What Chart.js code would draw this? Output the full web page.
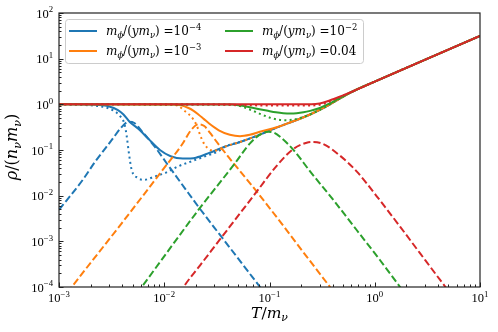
<!DOCTYPE html>
<html>
<head>
<meta charset="utf-8">
<script src="https://cdn.jsdelivr.net/npm/chart.js@4.4.1/dist/chart.umd.min.js"></script>
<style>
  body { margin: 0; background: #fff; }
  canvas { display: block; }
</style>
</head>
<body>
<canvas id="grafico" width="498" height="332"></canvas>
<script>
// tick labels (powers of ten)
const xTicks = [1e-3, 1e-2, 1e-1, 1, 10];
const xTickExp = ['−3', '−2', '−1', '0', '1'];
const yTicks = [1e-4, 1e-3, 1e-2, 1e-1, 1, 10, 100];
const yTickExp = ['−4', '−3', '−2', '−1', '0', '1', '2'];

// legend: m_phi/(y m_nu) values
const massBase = ['10', '10', '10', '0.04'];
const massExp = ['−4', '−3', '−2', ''];
const cores = ['#1f77b4', '#ff7f0e', '#2ca02c', '#d62728'];

// common high-T part, all solid curves end on it
const tailT = [0.6, 1, 10];
const tailY = [1.86, 3.15, 31.5];
// lower branch the dipped curves share
const lowT = [0.0525, 0.08, 0.117, 0.168, 0.243, 0.35, 0.45];
const lowY = [0.15, 0.215, 0.31, 0.426, 0.6, 0.91, 1.28];

// blue, 1e-4
const blueSolidT = [0.001, 0.0022, 0.003, 0.0036, 0.0041, 0.0047, 0.0057, 0.007, 0.0091, 0.0115, 0.015, 0.02, 0.027, 0.038];
const blueSolidY = [1, 0.98, 0.9, 0.76, 0.6, 0.41, 0.29, 0.18, 0.1, 0.073, 0.065, 0.068, 0.087, 0.119];
const blueDotT = [0.001, 0.0022, 0.0029, 0.0037, 0.0042, 0.0044, 0.0046, 0.0049, 0.0056, 0.0064, 0.0082, 0.0102, 0.0136, 0.0182, 0.0244, 0.0327, 0.038];
const blueDotY = [1, 0.93, 0.83, 0.59, 0.36, 0.2, 0.09, 0.037, 0.0245, 0.0222, 0.0265, 0.0314, 0.044, 0.0566, 0.0728, 0.094, 0.119];
const blueDashT = [0.001, 0.0017, 0.0022, 0.0032, 0.0039, 0.0046, 0.0052, 0.0061, 0.0082, 0.0105, 0.0157, 0.0219, 0.0352, 0.0625, 0.0813, 0.09];
const blueDashY = [0.0049, 0.023, 0.055, 0.17, 0.31, 0.415, 0.39, 0.26, 0.115, 0.052, 0.0145, 0.0051, 0.00123, 0.00022, 0.0001, 0.000074];

// orange, 1e-3
const orangeSolidT = [0.001, 0.012, 0.0145, 0.017, 0.019, 0.0211, 0.0237, 0.0267, 0.033, 0.042, 0.0525, 0.065, 0.081, 0.117];
const orangeSolidY = [1, 0.99, 0.95, 0.83, 0.72, 0.6, 0.48, 0.38, 0.27, 0.215, 0.2, 0.215, 0.25, 0.315];
const orangeDotT = [0.001, 0.011, 0.0135, 0.0155, 0.0175, 0.019, 0.0205, 0.0215, 0.0228, 0.024, 0.0265, 0.029, 0.033, 0.038];
const orangeDotY = [1, 0.99, 0.93, 0.73, 0.58, 0.46, 0.33, 0.24, 0.17, 0.135, 0.105, 0.097, 0.101, 0.119];
const orangeDashT = [0.0012, 0.00132, 0.00394, 0.0102, 0.0147, 0.0179, 0.0211, 0.024, 0.0275, 0.0303, 0.0421, 0.0607, 0.0783, 0.135, 0.2256, 0.376, 0.42];
const orangeDashY = [0.000075, 0.0001, 0.00248, 0.0431, 0.13, 0.27, 0.366, 0.335, 0.23, 0.17, 0.064, 0.023, 0.0111, 0.0022, 0.000463, 0.0001, 0.000072];

// green, 1e-2
const greenSolidT = [0.001, 0.042, 0.055, 0.065, 0.078, 0.094, 0.115, 0.135, 0.16, 0.181, 0.21, 0.243, 0.285, 0.324, 0.365, 0.404, 0.5];
const greenSolidY = [1, 0.99, 0.93, 0.86, 0.79, 0.73, 0.67, 0.64, 0.63, 0.64, 0.67, 0.72, 0.8, 0.9, 1.02, 1.15, 1.5];
const greenDotT = [0.001, 0.035, 0.0488, 0.065, 0.081, 0.101, 0.126, 0.145, 0.165, 0.2];
const greenDotY = [1, 0.99, 0.95, 0.77, 0.62, 0.51, 0.455, 0.45, 0.46, 0.51];
const greenDashT = [0.0055, 0.0061, 0.0211, 0.047, 0.0653, 0.0874, 0.0969, 0.11, 0.126, 0.168, 0.243, 0.404, 0.673, 1.12, 1.74, 1.95];
const greenDashY = [0.000073, 0.0001, 0.00486, 0.0512, 0.14, 0.239, 0.252, 0.24, 0.195, 0.102, 0.034, 0.00806, 0.00177, 0.00039, 0.0001, 0.000071];

// red, 0.04
const redSolidT = [0.001, 0.25, 0.3, 0.35, 0.42, 0.5];
const redSolidY = [1, 1, 1.04, 1.15, 1.35, 1.57];
const redDotT = [0.001, 0.02, 0.04, 0.07, 0.15, 0.25, 0.3, 0.35, 0.42, 0.5];
const redDotY = [1, 0.995, 0.975, 0.95, 0.94, 0.94, 0.98, 1.08, 1.3, 1.55];
const redDashT = [0.014, 0.0157, 0.0219, 0.0352, 0.0453, 0.0755, 0.117, 0.168, 0.2256, 0.259, 0.324, 0.468, 0.673, 1.045, 1.74, 2.69, 4.7, 5.2];
const redDashY = [0.000071, 0.00011, 0.000298, 0.00124, 0.00264, 0.0122, 0.045, 0.105, 0.1445, 0.15, 0.1355, 0.075, 0.034, 0.0097, 0.0021, 0.00055, 0.0001, 0.000074];

function pts(t, y) {
  return t.map((v, i) => ({ x: v, y: y[i] }));
}

const estilos = {
  solid: [],
  dot: [2, 3.3],
  dash: [7.2, 3.1]
};

let ordem = 0;
function serie(t, y, cor, estilo) {
  ordem++;
  return {
    data: pts(t, y),
    borderColor: cor,
    borderWidth: 2,
    borderDash: estilos[estilo],
    borderCapStyle: 'butt',
    pointRadius: 0,
    fill: false,
    cubicInterpolationMode: 'monotone',
    order: 100 - ordem,
    clip: 0
  };
}

const datasets = [
  serie(blueSolidT.concat(lowT, tailT), blueSolidY.concat(lowY, tailY), cores[0], 'solid'),
  serie(blueDotT.concat(lowT, tailT), blueDotY.concat(lowY, tailY), cores[0], 'dot'),
  serie(blueDashT, blueDashY, cores[0], 'dash'),
  serie(orangeSolidT.concat(lowT.slice(3), tailT), orangeSolidY.concat(lowY.slice(3), tailY), cores[1], 'solid'),
  serie(orangeDotT.concat(lowT, tailT), orangeDotY.concat(lowY, tailY), cores[1], 'dot'),
  serie(orangeDashT, orangeDashY, cores[1], 'dash'),
  serie(greenSolidT.concat(tailT), greenSolidY.concat(tailY), cores[2], 'solid'),
  serie(greenDotT.concat(lowT.slice(4), tailT), greenDotY.concat(lowY.slice(4), tailY), cores[2], 'dot'),
  serie(greenDashT, greenDashY, cores[2], 'dash'),
  serie(redSolidT.concat(tailT), redSolidY.concat(tailY), cores[3], 'solid'),
  serie(redDotT.concat(tailT), redDotY.concat(tailY), cores[3], 'dot'),
  serie(redDashT, redDashY, cores[3], 'dash')
];

const TIMES = '"Liberation Serif", serif';
const MATH = '"DejaVu Serif", serif';

// draws text with italic / sub / sup pieces
function rich(ctx, parts, x, y, size, align, fam) {
  const fonts = parts.map(p => {
    const s = p.pos ? size * 0.7 : size;
    return (p.it ? 'italic ' : '') + s + 'px ' + fam;
  });
  let w = 0;
  const ws = parts.map((p, i) => { ctx.font = fonts[i]; const m = ctx.measureText(p.t).width; w += m; return m; });
  let cx = align === 'center' ? x - w / 2 : align === 'right' ? x - w : x;
  ctx.textAlign = 'left';
  ctx.textBaseline = 'alphabetic';
  parts.forEach((p, i) => {
    ctx.font = fonts[i];
    const dy = p.pos === 'sub' ? size * 0.22 : p.pos === 'sup' ? -size * 0.42 : 0;
    ctx.fillText(p.t, cx, y + dy);
    cx += ws[i];
  });
  return w;
}

function pow10(exp) {
  return [{ t: '10' }, { t: exp, pos: 'sup' }];
}

const eixos = {
  id: 'eixos',
  afterDraw(chart) {
    const ctx = chart.ctx;
    const a = chart.chartArea;
    const sx = chart.scales.x, sy = chart.scales.y;
    ctx.save();
    ctx.fillStyle = '#000';
    ctx.strokeStyle = '#222';
    ctx.lineWidth = 1;

    // inward ticks on left and bottom
    ctx.beginPath();
    for (let d = -3; d <= 1; d++) {
      for (let k = 1; k <= 9; k++) {
        const v = k * Math.pow(10, d);
        if (v < 1e-3 * 0.999 || v > 10 * 1.001) continue;
        const px = Math.round(sx.getPixelForValue(v)) + 0.5;
        const len = k === 1 ? 4.5 : 2.5;
        ctx.moveTo(px, a.bottom);
        ctx.lineTo(px, a.bottom - len);
      }
    }
    for (let d = -4; d <= 2; d++) {
      for (let k = 1; k <= 9; k++) {
        const v = k * Math.pow(10, d);
        if (v < 1e-4 * 0.999 || v > 100 * 1.001) continue;
        const py = Math.round(sy.getPixelForValue(v)) + 0.5;
        const len = k === 1 ? 4.5 : 2.5;
        ctx.moveTo(a.left, py);
        ctx.lineTo(a.left + len, py);
      }
    }
    ctx.stroke();

    ctx.lineWidth = 1.2;
    ctx.strokeRect(a.left, a.top, a.right - a.left, a.bottom - a.top);

    // tick labels
    xTicks.forEach((v, i) => {
      rich(ctx, pow10(xTickExp[i]), sx.getPixelForValue(v), a.bottom + 15, 12.5, 'center', TIMES);
    });
    yTicks.forEach((v, i) => {
      rich(ctx, pow10(yTickExp[i]), a.left - 6, sy.getPixelForValue(v) + 4.5, 12.5, 'right', TIMES);
    });

    // axis titles
    rich(ctx, [{ t: 'T', it: true }, { t: '/' }, { t: 'm', it: true }, { t: 'ν', it: true, pos: 'sub' }],
      (a.left + a.right) / 2, 318, 15.5, 'center', MATH);
    ctx.save();
    ctx.translate(17, 147);
    ctx.rotate(-Math.PI / 2);
    rich(ctx, [{ t: 'ρ', it: true }, { t: '/(' }, { t: 'n', it: true }, { t: 'ν', it: true, pos: 'sub' },
      { t: 'm', it: true }, { t: 'ν', it: true, pos: 'sub' }, { t: ')' }], 0, 0, 16, 'center', MATH);
    ctx.restore();

    // legend
    const bx = 65, by = 19, bw = 298, bh = 44;
    ctx.beginPath();
    ctx.roundRect(bx + 0.5, by + 0.5, bw, bh, 3);
    ctx.fillStyle = 'rgba(255,255,255,0.8)';
    ctx.fill();
    ctx.strokeStyle = '#cccccc';
    ctx.lineWidth = 1;
    ctx.stroke();
    const lx = [69, 225], tx = [106, 262], ry = [31, 51];
    for (let i = 0; i < 4; i++) {
      const c = Math.floor(i / 2), r = i % 2;
      ctx.beginPath();
      ctx.strokeStyle = cores[i];
      ctx.lineWidth = 2;
      ctx.moveTo(lx[c], ry[r]);
      ctx.lineTo(lx[c] + 28, ry[r]);
      ctx.stroke();
      ctx.fillStyle = '#000';
      const parts = [{ t: 'm', it: true }, { t: 'ϕ', it: true, pos: 'sub' }, { t: '/(' }, { t: 'ym', it: true },
        { t: 'ν', it: true, pos: 'sub' }, { t: ') =' + massBase[i] }];
      if (massExp[i]) parts.push({ t: massExp[i], pos: 'sup' });
      rich(ctx, parts, tx[c], ry[r] + 4, 12, 'left', MATH);
    }
    ctx.restore();
  }
};

new Chart(document.getElementById('grafico'), {
  type: 'line',
  data: { datasets: datasets },
  options: {
    responsive: false,
    animation: false,
    devicePixelRatio: 1,
    layout: { padding: { left: 59, right: 18, top: 13, bottom: 45 } },
    plugins: { legend: { display: false }, tooltip: { enabled: false } },
    scales: {
      x: { type: 'logarithmic', min: 1e-3, max: 10, display: false },
      y: { type: 'logarithmic', min: 1e-4, max: 100, display: false }
    }
  },
  plugins: [eixos]
});
</script>
</body>
</html>
